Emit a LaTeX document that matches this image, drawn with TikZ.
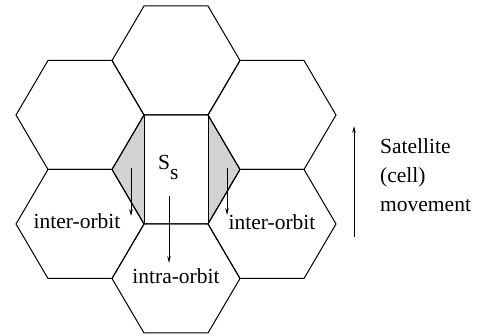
\documentclass[tikz,border=0pt]{standalone}
\usepackage{fontspec}
\setmainfont{Liberation Serif}
\usetikzlibrary{arrows.meta}
\begin{document}
\begin{tikzpicture}[x=1pt,y=-1pt,
  cell/.style={line width=1pt, line join=miter},
  overlap/.style={fill=gray!35},
  move/.style={line width=0.8pt, -{Stealth[length=7pt,width=3.5pt]}},
  lbl/.style={font=\fontsize{21.5}{29}\selectfont, inner sep=0pt}]
\useasboundingbox (0,0) rectangle (479,336);

% overlap areas of the serving cell with its side neighbours
\fill[overlap] (144,115) -- (112,169.5) -- (144,224) -- cycle;
\fill[overlap] (208,115) -- (240,169.5) -- (208,224) -- cycle;

% seven hexagonal cells
\foreach \cx/\cy in {176/169.5, 176/60.5, 176/278.5, 80/115, 272/115, 80/224, 272/224}
  \draw[cell] (\cx-64,\cy) -- (\cx-32,\cy-54.5) -- (\cx+32,\cy-54.5)
     -- (\cx+64,\cy) -- (\cx+32,\cy+54.5) -- (\cx-32,\cy+54.5) -- cycle;

% borders of the shaded overlaps
\draw[cell] (144,115) -- (144,224);
\draw[cell] (208,115) -- (208,224);

% labels
\node[lbl, anchor=base west] (ss) at (158,170) {S\raisebox{-10pt}{s}};
\node[lbl, anchor=base] (interL) at (77,229) {inter-orbit};
\node[lbl, anchor=base] (interR) at (272,230) {inter-orbit};
\node[lbl, anchor=base] (intra) at (176,284) {intra-orbit};
\node[lbl, anchor=base west] (sat1) at (380,154) {Satellite};
\node[lbl, anchor=base west] (sat2) at (380,183) {(cell)};
\node[lbl, anchor=base west] (sat3) at (380,212) {movement};

% handover arrows
\coordinate (cS) at (169,196); \coordinate (cE) at (169,263);
\coordinate (lS) at (131,168); \coordinate (lE) at (131,216);
\coordinate (rS) at (227,168); \coordinate (rE) at (227,215);
\coordinate (mS) at (354,237); \coordinate (mE) at (354,126);
\draw[move] (cS) -- (cE);
\draw[move] (lS) -- (lE);
\draw[move] (rS) -- (rE);
\draw[move] (mS) -- (mE);
\end{tikzpicture}
\end{document}
